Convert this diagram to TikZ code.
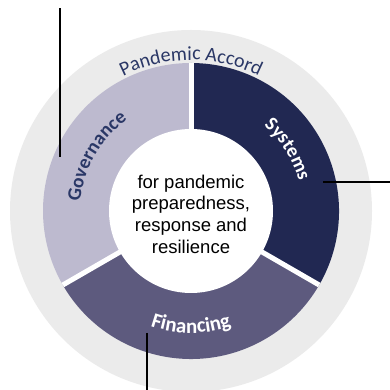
\documentclass[tikz,border=0pt]{standalone}
\usepackage{fontspec}
\setmainfont{Liberation Sans}
\newfontfamily\calfont{Carlito}
\usetikzlibrary{decorations.text}

\definecolor{ringgray}{HTML}{EBEBEB}
\definecolor{govfill}{HTML}{BDBACF}
\definecolor{sysfill}{HTML}{212852}
\definecolor{finfill}{HTML}{5D5A7E}
\definecolor{navytxt}{HTML}{2A3766}

\begin{document}
\begin{tikzpicture}[x=1pt, y=1pt,
  gapline/.style={white, line width=5pt},
  callout/.style={black, line width=1.3pt},
  arclbl/.style={decorate, decoration={text along path, text align=center}},
  hubtxt/.style={align=center, font=\fontsize{18.5}{21.7}\selectfont},
]
\useasboundingbox (0,0) rectangle (390,390);

% Radii
\def\rin{82}
\def\rout{148}
\def\rring{181}

\coordinate (c) at (191,179);

% Outer grey ring
\fill[ringgray] (c) circle[radius=\rring];

% Three pillars
\fill[govfill] (c) -- ++(90:\rout) arc[start angle=90, end angle=210, radius=\rout] -- cycle;
\fill[sysfill] (c) -- ++(-30:\rout) arc[start angle=-30, end angle=90, radius=\rout] -- cycle;
\fill[finfill] (c) -- ++(210:\rout) arc[start angle=210, end angle=330, radius=\rout] -- cycle;

% White gaps between pillars
\draw[gapline] (c) -- ++(90:\rout);
\draw[gapline] (c) -- ++(210:\rout);
\draw[gapline] (c) -- ++(330:\rout);

% Centre
\node[circle, fill=white, minimum size=2*\rin, inner sep=0] (hub) at (c) {};
\node[hubtxt] (hubtext) at ([yshift=-3pt]hub.center)
  {for pandemic\\preparedness,\\response and\\resilience};

% Curved labels
\path[arclbl, decoration={text color=navytxt,
    text={|\calfont\fontsize{20}{20}\selectfont|Pandemic Accord}}]
  ([shift={(130:151)}]c) arc[start angle=130, end angle=50, radius=151];
\path[arclbl, decoration={text color=navytxt,
    text={|\calfont\bfseries\fontsize{19.5}{19.5}\selectfont|Governance}}]
  ([shift={(200:111)}]c) arc[start angle=200, end angle=100, radius=111];
\path[arclbl, decoration={text color=white,
    text={|\calfont\bfseries\fontsize{19.5}{19.5}\selectfont|Systems}}]
  ([shift={(75:112)}]c) arc[start angle=75, end angle=-10, radius=112];
\path[arclbl, decoration={text color=white,
    text={|\calfont\bfseries\fontsize{21}{21}\selectfont|Financing}}]
  ([shift={(225:122)}]c) arc[start angle=225, end angle=315, radius=122];

% Callout lines
\coordinate (govtip) at (60,233);
\coordinate (govend) at (60,382);
\coordinate (systip) at (323,208);
\coordinate (sysend) at (390,208);
\coordinate (fintip) at (147,57);
\coordinate (finend) at (147,0);
\draw[callout] (govtip) -- (govend);
\draw[callout] (systip) -- (sysend);
\draw[callout] (fintip) -- (finend);

\end{tikzpicture}
\end{document}
